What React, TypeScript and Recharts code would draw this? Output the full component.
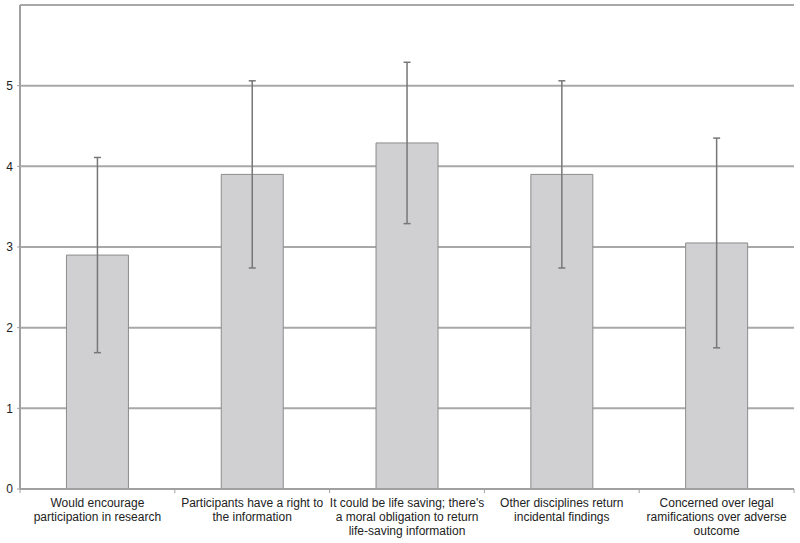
import { BarChart, Bar, XAxis, YAxis, CartesianGrid, ErrorBar } from "recharts";

const categories = [
  "Would encourage\nparticipation in research",
  "Participants have a right to\nthe information",
  "It could be life saving; there's\na moral obligation to return\nlife-saving information",
  "Other disciplines return\nincidental findings",
  "Concerned over legal\nramifications over adverse\noutcome",
];
const means = [2.9, 3.9, 4.29, 3.9, 3.05];
const errors = [1.21, 1.16, 1.0, 1.16, 1.3];
const yTicks = [0, 1, 2, 3, 4, 5];

const data = categories.map((name, i) => ({ name, mean: means[i], err: errors[i] }));

const font = "Liberation Sans, Arial, sans-serif";

// labels split on \n, plus a small tick at the left edge of each band
function CategoryTick({ x, y, payload, index, visibleTicksCount }: any) {
  const lines = String(payload.value).split("\n");
  const half = payload.offset || 0;
  const axisY = y - 6;
  return (
    <g>
      <line x1={x - half} x2={x - half} y1={axisY} y2={axisY + 4} stroke="#a0a0a0" />
      {index === visibleTicksCount - 1 && (
        <line x1={x + half} x2={x + half} y1={axisY} y2={axisY + 4} stroke="#a0a0a0" />
      )}
      <text x={x} y={y} textAnchor="middle" fill="#222" fontSize={12} fontFamily={font}>
        {lines.map((line, i) => (
          <tspan key={i} x={x} dy={i === 0 ? 12 : 14}>
            {line}
          </tspan>
        ))}
      </text>
    </g>
  );
}

export default function App() {
  return (
    <div style={{ position: "absolute", left: 0, top: 0, background: "#fff" }}>
      <BarChart
        width={800}
        height={543}
        data={data}
        margin={{ top: 5, right: 6, left: 0, bottom: 0 }}
        barCategoryGap="30%"
      >
        <CartesianGrid vertical={false} stroke="#a8a8a8" strokeWidth={2} />
        <XAxis
          dataKey="name"
          interval={0}
          height={54}
          tick={<CategoryTick />}
          axisLine={{ stroke: "#a0a0a0", strokeWidth: 2 }}
          tickLine={false}
          tickSize={4}
        />
        <YAxis
          domain={[0, 6]}
          ticks={yTicks}
          width={20}
          tick={{ fill: "#222", fontSize: 12, fontFamily: font }}
          axisLine={{ stroke: "#a0a0a0", strokeWidth: 2 }}
          tickLine={{ stroke: "#a0a0a0" }}
          tickSize={3}
          tickMargin={4}
        />
        <Bar dataKey="mean" fill="#d0d0d2" stroke="#8c8c8c" strokeWidth={1} isAnimationActive={false}>
          <ErrorBar dataKey="err" width={3.5} stroke="#777" strokeWidth={1.5} />
        </Bar>
      </BarChart>
    </div>
  );
}
